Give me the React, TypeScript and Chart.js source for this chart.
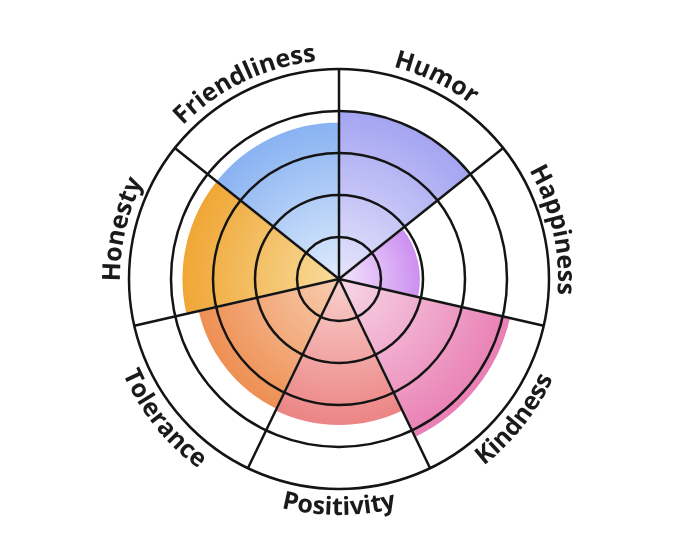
import React, { useEffect, useRef } from "react";
import { Chart, registerables } from "chart.js";

Chart.register(...registerables);

const labels = ["Humor", "Happiness", "Kindness", "Positivity", "Tolerance", "Honesty", "Friendliness"];
const values = [4.0, 1.95, 4.2, 3.5, 3.45, 3.75, 3.75];
const innerColors = ["#e6e6fc", "#f4e6fd", "#f7d8e7", "#f8d0cc", "#f8cdb0", "#f8dc9c", "#dfecfc"];
const outerColors = ["#a4a4f2", "#cc8ef0", "#e97fb4", "#ec8484", "#ee8f52", "#f0a635", "#88b2f2"];
const scaleMax = 5;
const scaleStep = 1;

const LABEL_FONT = "700 25px 'Open Sans', 'Noto Sans', sans-serif";
const LABEL_COLOR = "#1a1a1a";

const curvedLabels = {
  id: "curvedLabels",
  afterDraw(chart: any) {
    const scale = chart.scales.r;
    if (!scale) return;
    const ctx = chart.ctx;
    const cx = scale.xCenter;
    const cy = scale.yCenter;
    const R = scale.drawingArea;
    const n = labels.length;
    const seg = (Math.PI * 2) / n;
    ctx.save();
    ctx.font = LABEL_FONT;
    ctx.fillStyle = LABEL_COLOR;
    ctx.textAlign = "center";
    ctx.textBaseline = "alphabetic";
    labels.forEach((label, i) => {
      const thetaC = (i + 0.5) * seg;
      const deg = (thetaC * 180) / Math.PI;
      const inward = deg > 100 && deg < 260;
      const r = inward ? R + 26 : R + 9;
      const chars = label.split("");
      const widths = chars.map((c) => ctx.measureText(c).width);
      const total = widths.reduce((a, b) => a + b, 0);
      let acc = 0;
      chars.forEach((c, k) => {
        const w = widths[k];
        const mid = acc + w / 2;
        acc += w;
        let theta: number;
        let rot: number;
        if (!inward) {
          theta = thetaC - total / (2 * r) + mid / r;
          rot = theta;
        } else {
          theta = thetaC + total / (2 * r) - mid / r;
          rot = theta - Math.PI;
        }
        const x = cx + r * Math.sin(theta);
        const y = cy - r * Math.cos(theta);
        ctx.save();
        ctx.translate(x, y);
        ctx.rotate(rot);
        ctx.fillText(c, 0, 0);
        ctx.restore();
      });
    });
    ctx.restore();
  },
};

export default function App() {
  const canvasRef = useRef<HTMLCanvasElement | null>(null);

  useEffect(() => {
    const canvas = canvasRef.current;
    if (!canvas) return;
    const chart = new Chart(canvas, {
      type: "polarArea",
      data: {
        labels,
        datasets: [
          {
            data: values,
            backgroundColor: (c: any) => {
              const i = c.dataIndex ?? 0;
              const sc = c.chart.scales?.r;
              if (c.type !== "data" || !sc || sc.xCenter === undefined) return outerColors[i];
              const rad = sc.getDistanceFromCenterForValue(values[i]);
              if (!isFinite(rad) || rad <= 0) return outerColors[i];
              const g = c.chart.ctx.createRadialGradient(sc.xCenter, sc.yCenter, 0, sc.xCenter, sc.yCenter, rad);
              g.addColorStop(0, innerColors[i]);
              g.addColorStop(1, outerColors[i]);
              return g;
            },
            borderColor: "#ffffff",
            borderWidth: 2,
          },
        ],
      },
      options: {
        responsive: false,
        animation: false,
        layout: { padding: { left: 121, right: 122, top: 61, bottom: 62 } },
        plugins: {
          legend: { display: false },
          tooltip: { enabled: false },
        },
        scales: {
          r: {
            min: 0,
            max: scaleMax,
            startAngle: 0,
            ticks: { display: false, stepSize: scaleStep },
            grid: { circular: true, color: "#141414", lineWidth: 2.5, z: 1 },
            angleLines: { display: true, color: "#141414", lineWidth: 2.5 },
            pointLabels: { display: false },
          },
        },
      },
      plugins: [curvedLabels],
    });
    return () => chart.destroy();
  }, []);

  return (
    <div style={{ width: 664, height: 544 }}>
      <canvas ref={canvasRef} width={664} height={544} style={{ display: "block" }} />
    </div>
  );
}
